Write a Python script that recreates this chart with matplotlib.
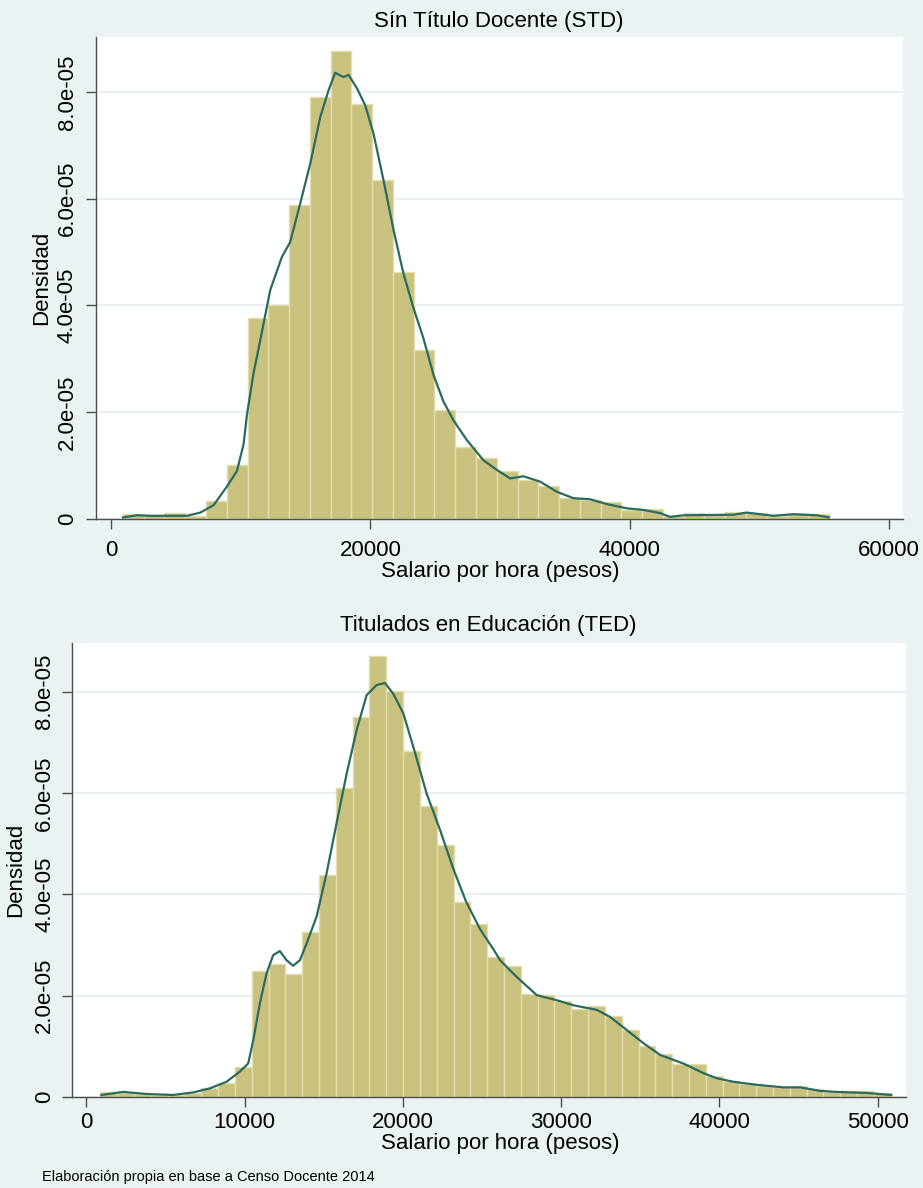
import matplotlib
matplotlib.use("Agg")
import matplotlib.pyplot as plt
import numpy as np

# Sin Titulo Docente (STD): histogram, densidad x 1e-5
std_bin_start = 900
std_bin_width = 1603
std_heights = [0.09, 0.07, 0.12, 0.05, 0.34, 1.01, 3.76, 4.00, 5.89, 7.90,
               8.76, 7.78, 6.35, 4.62, 3.16, 2.05, 1.35, 1.15, 0.89, 0.73,
               0.62, 0.39, 0.36, 0.32, 0.17, 0.18, 0.06, 0.11, 0.08, 0.13,
               0.11, 0.06, 0.09, 0.09]
# curva kernel STD
std_kx = [900, 1980, 3010, 5840, 6870, 7900, 8930, 9700, 10210, 10470,
          10980, 11500, 12270, 13170, 13810, 14580, 15360, 16130, 16770, 17280,
          17670, 17930, 18310, 18960, 19600, 20240, 21010, 21790, 22550, 23330,
          24100, 24870, 25640, 26410, 27440, 28730, 29760, 30790, 31810, 33100,
          34390, 35670, 36960, 38250, 39790, 41080, 42360, 43130, 44160, 48020,
          49050, 51100, 52650, 54450, 55400]
std_ky = [0.03, 0.07, 0.06, 0.06, 0.12, 0.26, 0.61, 0.90, 1.40, 1.95,
          2.73, 3.35, 4.29, 4.91, 5.19, 5.91, 6.66, 7.53, 8.03, 8.36,
          8.31, 8.28, 8.32, 8.07, 7.75, 7.22, 6.35, 5.41, 4.60, 3.95,
          3.38, 2.70, 2.20, 1.85, 1.48, 1.10, 0.92, 0.76, 0.80, 0.70,
          0.51, 0.39, 0.37, 0.28, 0.20, 0.17, 0.11, 0.04, 0.07, 0.08,
          0.12, 0.06, 0.09, 0.07, 0.03]

# Titulados en Educacion (TED)
ted_bin_start = 900
ted_bin_width = 1062
ted_heights = [0.10, 0.08, 0.06, 0.04, 0.04, 0.08, 0.17, 0.28, 0.59, 2.49,
               2.62, 2.43, 3.25, 4.39, 6.09, 7.50, 8.71, 8.01, 6.83, 5.74,
               4.98, 3.85, 3.41, 2.76, 2.58, 2.03, 2.01, 1.89, 1.74, 1.80,
               1.60, 1.32, 1.01, 0.84, 0.65, 0.66, 0.42, 0.32, 0.26, 0.22,
               0.19, 0.21, 0.15, 0.10, 0.11, 0.11, 0.07]
ted_kx = [960, 2330, 3800, 5490, 6750, 7810, 8860, 9700, 10230, 10550,
          10970, 11390, 11810, 12230, 12650, 13070, 13500, 13920, 14550, 15180,
          15810, 16450, 17080, 17710, 18340, 18870, 19390, 20030, 20660, 21500,
          22350, 23190, 24000, 24900, 25710, 26140, 26770, 27190, 28460, 29720,
          30770, 32250, 33090, 34150, 35200, 36250, 37720, 38990, 39830, 40880,
          42360, 44050, 45100, 46370, 47420, 49320, 50850]
ted_ky = [0.04, 0.10, 0.06, 0.04, 0.09, 0.17, 0.30, 0.50, 0.66, 1.12,
          1.85, 2.44, 2.80, 2.88, 2.70, 2.59, 2.70, 3.03, 3.56, 4.41,
          5.40, 6.38, 7.24, 7.93, 8.13, 8.17, 7.96, 7.57, 6.91, 5.99,
          5.27, 4.50, 3.85, 3.30, 2.92, 2.70, 2.50, 2.37, 2.01, 1.91,
          1.81, 1.72, 1.58, 1.32, 1.06, 0.83, 0.66, 0.47, 0.37, 0.30,
          0.24, 0.19, 0.19, 0.12, 0.10, 0.08, 0.04]

ytick_vals = [0, 2e-5, 4e-5, 6e-5, 8e-5]
ytick_labels = ["0", "2.0e-05", "4.0e-05", "6.0e-05", "8.0e-05"]
titulo_std = "Sín Título Docente (STD)"
titulo_ted = "Titulados en Educación (TED)"
xlabel = "Salario por hora (pesos)"
ylabel = "Densidad"
nota = "Elaboración propia en base a Censo Docente 2014"

W, H = 923, 1188
bg = "#EAF2F3"
bar_col = "#C9C27F"
bar_edge = "#E3DDA9"
line_col = "#2B6A5E"
axis_col = "#4D4D4D"

plt.rcParams["font.family"] = ["Liberation Sans", "DejaVu Sans"]

fig = plt.figure(figsize=(W / 100, H / 100), dpi=100)
fig.patch.set_facecolor(bg)


def px(x, y):
    return x / W, 1 - y / H


def panel(rect, start, width, heights, kx, ky, xlim, ylim, xticks, ypad, xpad):
    ax = fig.add_axes(rect)
    ax.set_facecolor("white")
    edges = start + width * np.arange(len(heights))
    ax.bar(edges, np.array(heights) * 1e-5, width=width, align="edge",
           color=bar_col, edgecolor=bar_edge, linewidth=1.0, zorder=2)
    ax.plot(kx, np.array(ky) * 1e-5, color=line_col, lw=1.6, zorder=3)
    ax.set_xlim(xlim)
    ax.set_ylim(ylim)
    ax.set_xticks(xticks)
    ax.set_xticklabels([str(t) for t in xticks])
    ax.set_yticks(ytick_vals)
    ax.set_yticklabels(ytick_labels, rotation=90, va="center")
    ax.yaxis.grid(True, color="#E9EFF1", lw=1.5, zorder=0)
    ax.set_axisbelow(True)
    for s in ["top", "right"]:
        ax.spines[s].set_visible(False)
    for s in ["left", "bottom"]:
        ax.spines[s].set_color(axis_col)
        ax.spines[s].set_linewidth(1.0)
    ax.tick_params(axis="both", direction="out", length=7, width=1,
                   color=axis_col, labelsize=16, labelcolor="black")
    ax.tick_params(axis="y", pad=ypad)
    ax.tick_params(axis="x", pad=xpad)
    return ax


# panel superior
x0, y0 = px(96, 519)
x1, y1 = px(903, 37)
panel([x0, y0, x1 - x0, y1 - y0], std_bin_start, std_bin_width, std_heights,
      std_kx, std_ky, (-1180, 61110), (0, 9.03e-5), [0, 20000, 40000, 60000], 6, 8)

# panel inferior
x0, y0 = px(72, 1097)
x1, y1 = px(906, 643)
panel([x0, y0, x1 - x0, y1 - y0], ted_bin_start, ted_bin_width, ted_heights,
      ted_kx, ted_ky, (-898, 51780), (0, 8.96e-5),
      [0, 10000, 20000, 30000, 40000, 50000], 5, 4)

fig.text(*px(499, 21), titulo_std, ha="center", va="center", fontsize=16)
fig.text(*px(500, 572), xlabel, ha="center", va="center", fontsize=16)
fig.text(*px(42, 278), ylabel, ha="center", va="center", fontsize=16, rotation=90)

fig.text(*px(488, 625), titulo_ted, ha="center", va="center", fontsize=16)
fig.text(*px(500, 1143), xlabel, ha="center", va="center", fontsize=16)
fig.text(*px(16, 870), ylabel, ha="center", va="center", fontsize=16, rotation=90)
fig.text(*px(42, 1177), nota, ha="left", va="center", fontsize=10.5)

fig.savefig("out.png", dpi=100, facecolor=bg)
